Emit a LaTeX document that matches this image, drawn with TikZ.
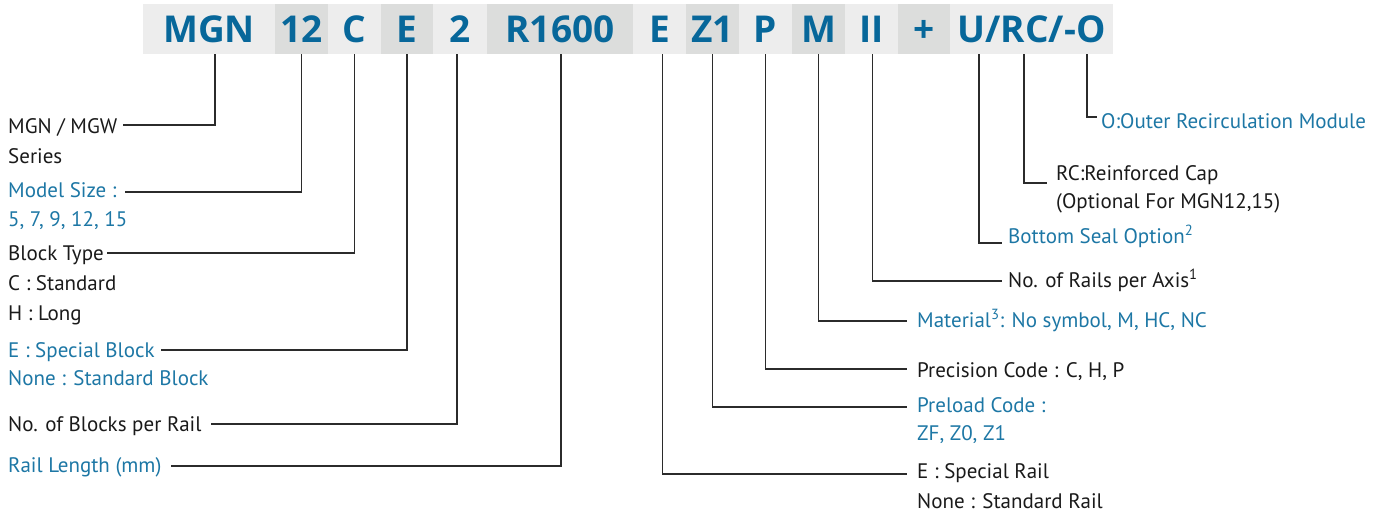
\documentclass[tikz,border=0pt]{standalone}
\usepackage{fontspec}
\setmainfont{PT Sans}
\newfontfamily\hdrfont{Open Sans}
\usetikzlibrary{calc}
\definecolor{hblue}{HTML}{07679A}
\definecolor{lblue}{HTML}{1D77A5}
\definecolor{boxA}{HTML}{EDEDED}
\definecolor{boxB}{HTML}{DCDDDC}
\definecolor{ink}{HTML}{1A1A1A}
\definecolor{wire}{HTML}{2B2B2B}
\tikzset{
  hbox/.style={inner sep=0pt, minimum height=50pt, text height=27pt, text depth=0pt,
    text=hblue, font=\hdrfont\bfseries\fontsize{37}{40}\selectfont},
  hA/.style={hbox, fill=boxA},
  hB/.style={hbox, fill=boxB},
  lab/.style={anchor=base west, inner sep=0pt, text=ink, font=\fontsize{21}{24}\selectfont},
  blab/.style={lab, text=lblue},
  wire/.style={draw=wire, line width=1.3pt}
}
\begin{document}
\begin{tikzpicture}[x=1pt,y=-1pt]
\useasboundingbox (0,0) rectangle (1381,515);
% header
\node[hA, minimum width=132pt] (hMGN) at (209,29) {MGN};
\node[hB, minimum width=53pt] (h12) at (301.5,29) {12};
\node[hA, minimum width=53pt] (hC) at (354.5,29) {C};
\node[hB, minimum width=52pt] (hE) at (407,29) {E};
\node[hA, minimum width=54pt] (h2) at (460,29) {2};
\node[hB, minimum width=146pt] (hR) at (560,29) {R1600};
\node[hA, minimum width=53pt] (hER) at (659.5,29) {E};
\node[hB, minimum width=53pt] (hZ) at (712.5,29) {Z1};
\node[hA, minimum width=53pt] (hP) at (765.5,29) {P};
\node[hB, minimum width=53pt] (hM) at (818.5,29) {M};
\node[hA, minimum width=53pt] (hII) at (871.5,29) {II};
\node[hB, minimum width=52pt] (hPlus) at (924,29) {+};
\node[hA, minimum width=163pt] (hU) at (1031.5,29) {U/RC/-O};
% left labels
\node[lab] (lMGN) at (8,133) {MGN / MGW};
\node[lab] (lSer) at (8,163) {Series};
\node[blab] (lMod) at (8,197.5) {Model Size :};
\node[blab] (lMod2) at (8,226) {5, 7, 9, 12, 15};
\node[lab] (lBT) at (8,260) {Block Type};
\node[lab] (lBT2) at (8,290) {C : Standard};
\node[lab] (lBT3) at (8,320) {H : Long};
\node[blab] (lSB) at (8,357) {E : Special Block};
\node[blab] (lSB2) at (8,385) {None : Standard Block};
\node[lab] (lNB) at (8,431) {No. of Blocks per Rail};
\node[blab] (lRL) at (8,472) {Rail Length (mm)};
% right labels
\node[blab] (rO) at (1101,128) {O:Outer Recirculation Module};
\node[lab] (rRC) at (1056,180) {RC:Reinforced Cap};
\node[lab] (rRC2) at (1056,208) {(Optional For MGN12,15)};
\node[blab] (rBS) at (1008,243) {Bottom Seal Option\textsuperscript{2}};
\node[lab] (rNR) at (1008,287) {No. of Rails per Axis\textsuperscript{1}};
\node[blab] (rMat) at (917,327) {Material\textsuperscript{3}: No symbol, M, HC, NC};
\node[lab] (rPC) at (917,377) {Precision Code : C, H, P};
\node[blab] (rPL) at (917,412) {Preload Code :};
\node[blab] (rPL2) at (917,440) {ZF, Z0, Z1};
\node[lab] (rER) at (917,478) {E : Special Rail};
\node[lab] (rER2) at (917,508) {None : Standard Rail};
% left connectors
\draw[wire] ([xshift=6pt]hMGN.south) |- ($(lMGN.base east)+(6,-8)$);
\draw[wire] (h12.south) |- ($(lMod.base east)+(8,-5.5)$);
\draw[wire] (hC.south) |- ($(lBT.base east)+(3,-7)$);
\draw[wire] (hE.south) |- ($(lSB.base east)+(6,-7)$);
\draw[wire] ([xshift=-3pt]h2.south) |- ($(lNB.base east)+(9,-7)$);
\draw[wire] ([xshift=1pt]hR.south) |- ($(lRL.base east)+(9,-6)$);
% right connectors
\draw[wire] ([xshift=55.5pt]hU.south) |- ($(rO.base west)+(-4,-11)$);
\draw[wire] ([xshift=-7.5pt]hU.south) |- ($(rRC.base west)+(-9,3)$);
\draw[wire] ([xshift=-52.5pt]hU.south) |- ($(rBS.base west)+(-6,0)$);
\draw[wire] ([xshift=1pt]hII.south) |- ($(rNR.base west)+(-6,-6)$);
\draw[wire] (hM.south) |- ($(rMat.base west)+(-10,-6)$);
\draw[wire] (hP.south) |- ($(rPC.base west)+(-10,-8)$);
\draw[wire] (hZ.south) |- ($(rPL.base west)+(-10,-5)$);
\draw[wire] ([xshift=3pt]hER.south) |- ($(rER.base west)+(-10,-4)$);
\end{tikzpicture}
\end{document}
